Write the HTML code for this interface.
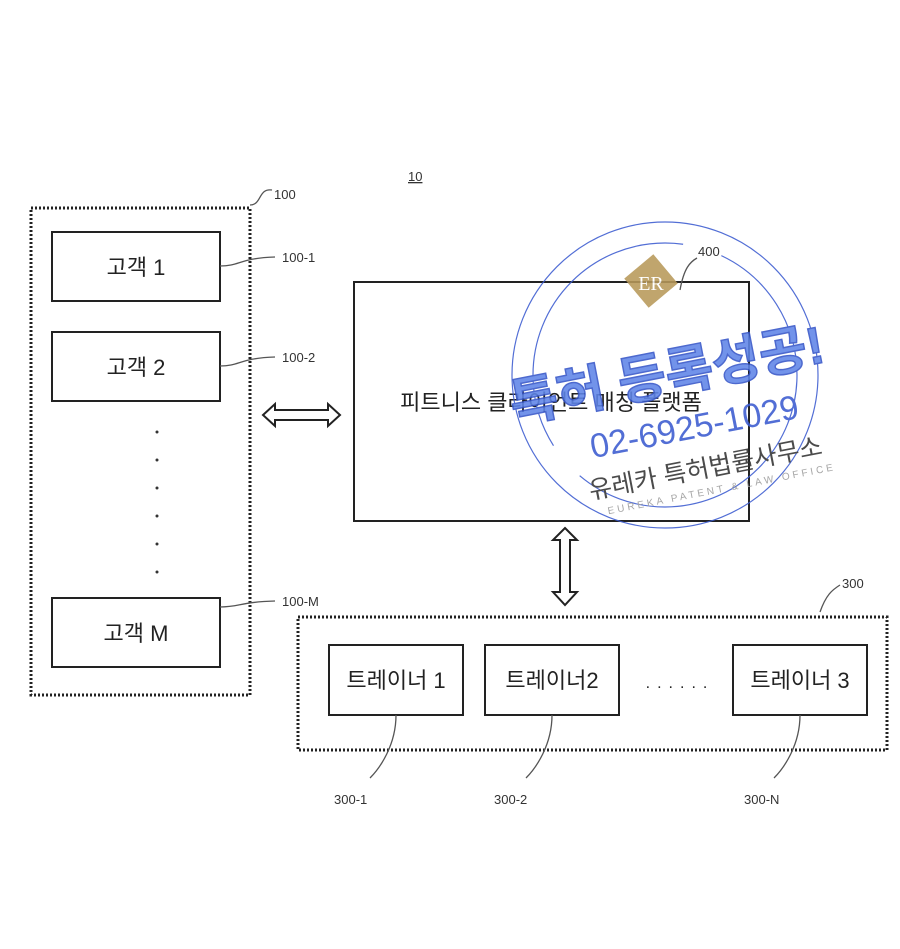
<!DOCTYPE html>
<html><head><meta charset="utf-8"><style>
html,body{margin:0;padding:0;background:#fff;}
svg{display:block;font-family:"Liberation Sans","Noto Sans CJK KR",sans-serif;}
</style></head><body>
<svg width="900" height="949" viewBox="0 0 900 949" xmlns="http://www.w3.org/2000/svg">
<g fill="none" stroke="#222">
<rect x="31" y="208" width="219" height="487" stroke-width="3" stroke-dasharray="2 2"/>
<rect x="52" y="232" width="168" height="69" stroke-width="2"/>
<rect x="52" y="332" width="168" height="69" stroke-width="2"/>
<rect x="52" y="598" width="168" height="69" stroke-width="2"/>
<rect x="354" y="282" width="395" height="239" stroke-width="2"/>
<rect x="298" y="617" width="589" height="133" stroke-width="3" stroke-dasharray="2 2"/>
<rect x="329" y="645" width="134" height="70" stroke-width="2"/>
<rect x="485" y="645" width="134" height="70" stroke-width="2"/>
<rect x="733" y="645" width="134" height="70" stroke-width="2"/>
<g stroke="#555" stroke-width="1.3">
<path d="M250 205 C262 205 258 188 272 190"/>
<path d="M220 266 C240 266 240 258 275 257"/>
<path d="M220 366 C240 366 240 358 275 357"/>
<path d="M220 607 C240 607 240 602 275 601"/>
<path d="M680 290 C684 268 690 262 697 258"/>
<path d="M820 612 C826 595 832 590 840 585"/>
<path d="M396 715 C396 745 380 768 370 778"/>
<path d="M552 715 C552 745 536 768 526 778"/>
<path d="M800 715 C800 745 784 768 774 778"/>
</g>
<path d="M263 415 L275 404 L275 410 L328 410 L328 404 L340 415 L328 426 L328 420 L275 420 L275 426 Z" stroke-width="2"/>
<path d="M565 528 L577 540 L570 540 L570 592 L577 592 L565 605 L553 592 L560 592 L560 540 L553 540 Z" stroke-width="2"/>
</g>
<g fill="#333">
<circle cx="157" cy="432" r="1.5"/><circle cx="157" cy="460" r="1.5"/><circle cx="157" cy="488" r="1.5"/>
<circle cx="157" cy="516" r="1.5"/><circle cx="157" cy="544" r="1.5"/><circle cx="157" cy="572" r="1.5"/>
</g>
<g fill="#222" font-size="22" text-anchor="middle">
<text x="136" y="275">고객 1</text>
<text x="136" y="375">고객 2</text>
<text x="136" y="641">고객 M</text>
<text x="396" y="688">트레이너 1</text>
<text x="552" y="688">트레이너2</text>
<text x="800" y="688">트레이너 3</text>
<text x="551" y="410">피트니스 클라이언트 매칭 플랫폼</text>
<text x="680" y="688" font-size="16" letter-spacing="7">......</text>
</g>
<g fill="#333" font-size="13">
<text x="408" y="181" text-decoration="underline">10</text>
<text x="274" y="199">100</text>
<text x="282" y="262">100-1</text>
<text x="282" y="362">100-2</text>
<text x="282" y="606">100-M</text>
<text x="698" y="256">400</text>
<text x="842" y="588">300</text>
<text x="334" y="804">300-1</text>
<text x="494" y="804">300-2</text>
<text x="744" y="804">300-N</text>
</g>
<g opacity="0.88">
<circle cx="665" cy="375" r="153" fill="none" stroke="#3b5bd0" stroke-width="1.2"/>
<circle cx="665" cy="375" r="132" fill="none" stroke="#3b5bd0" stroke-width="1.2" stroke-dasharray="300 40"/>
<rect x="632" y="262" width="38" height="38" fill="#b8995a" transform="rotate(-40 651 281)"/>
<text x="651" y="290" fill="#fff" font-size="20" text-anchor="middle" font-family="Liberation Serif,serif">ER</text>
<g transform="rotate(-11 670 380)">
<text x="668" y="392" fill="#5f85e8" font-size="52" font-weight="bold" text-anchor="middle" stroke="#3555c8" stroke-width="1.5">특허 등록성공!</text>
<text x="685" y="442" fill="#3b5bd0" font-size="34" text-anchor="middle">02-6925-1029</text>
<text x="688" y="482" fill="#333" font-size="25" text-anchor="middle">유레카 특허법률사무소</text>
<text x="700" y="500" fill="#999" font-size="10" letter-spacing="3" text-anchor="middle">EUREKA PATENT &amp; LAW OFFICE</text>
</g>
</g>
</svg>
</body></html>
